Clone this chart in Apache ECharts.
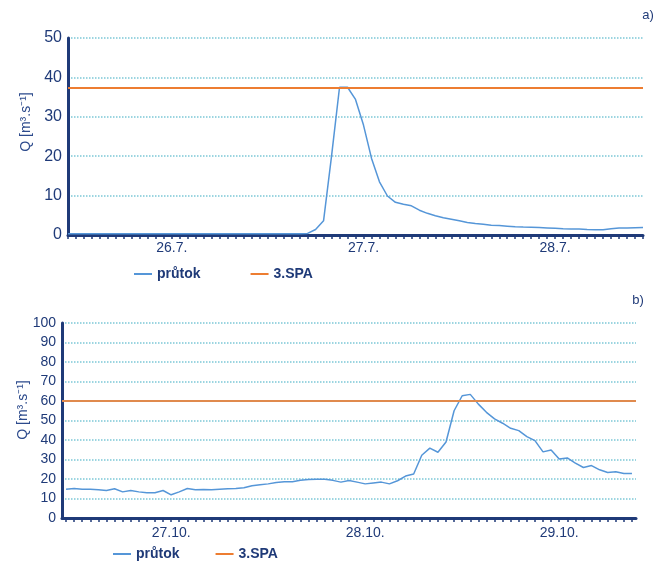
<!DOCTYPE html>
<html><head><meta charset="utf-8">
<script src="https://cdn.jsdelivr.net/npm/echarts@6/dist/echarts.min.js"></script>
<style>html,body{margin:0;padding:0;background:#fff}#c{width:659px;height:563px}</style>
</head><body><div id="c"></div>
<script>
// ---- chart a) ----
const flowA = [
  0.3,0.3,0.3,0.3,0.3,0.3,0.3,0.3,0.3,0.3,
  0.3,0.3,0.3,0.3,0.3,0.3,0.3,0.3,0.3,0.3,
  0.3,0.3,0.3,0.3,0.3,0.3,0.3,0.3,0.3,0.3,
  0.4,1.4,3.6,20,37.5,37.5,34.4,27.9,19.5,13.5,
  9.9,8.3,7.8,7.4,6.3,5.5,4.9,4.4,4.0,3.6,
  3.2,2.9,2.7,2.5,2.4,2.25,2.1,2.0,1.95,1.9,
  1.8,1.7,1.6,1.55,1.5,1.4,1.35,1.35,1.6,1.8,
  1.8,1.85,1.9
];
const spaA = 37.5;
const tickLabelsA = ['26.7.', '27.7.', '28.7.'];
const tickIdxA = [13, 37, 61];

// ---- chart b) ----
const flowB = [
  14.8,15.1,14.8,14.8,14.5,14.1,15.0,13.4,14.1,13.4,
  12.9,12.9,14.1,11.9,13.4,15.1,14.5,14.6,14.5,14.8,
  15.0,15.1,15.5,16.5,17.0,17.5,18.2,18.6,18.6,19.4,
  19.7,19.9,19.9,19.3,18.4,19.2,18.4,17.5,18.0,18.4,
  17.5,19.1,21.5,22.6,32.2,35.8,33.7,39.0,55.0,62.7,
  63.4,58.4,54.2,50.8,48.6,46.0,44.8,41.7,39.7,33.9,
  34.9,30.2,30.8,28.1,25.9,26.9,24.7,23.3,23.7,22.8,
  22.8
];
const spaB = 60;
const tickLabelsB = ['27.10.', '28.10.', '29.10.'];
const tickIdxB = [13, 37, 61];

const seriesNames = ['průtok', '3.SPA'];

const catsA = flowA.map((_, i) => String(i));
const catsB = flowB.map((_, i) => String(i));

const NAVY = '#1f3a78';
const NAVY2 = '#2c4a8c';
const BLUE = '#5596d8';
const ORANGE_A = '#ed7d31';
const ORANGE_B = '#e08a4e';
const GRID = '#7cc8d6';
const FONT = '"Liberation Sans", Arial, sans-serif';

function xAxisCfg(gridIndex, cats, idx, labels, gap, margin) {
  return {
    gridIndex, type: 'category', data: cats, boundaryGap: gap,
    axisLine: { lineStyle: { color: NAVY, width: 3 } },
    axisTick: { show: true, interval: 0, alignWithLabel: true, length: 4, lineStyle: { color: NAVY, width: 1.5 } },
    axisLabel: {
      interval: (i) => idx.includes(i),
      formatter: (v) => { const k = idx.indexOf(Number(v)); return k >= 0 ? labels[k] : ''; },
      color: NAVY, fontSize: 14, fontFamily: FONT, margin: margin
    },
    splitLine: { show: false }
  };
}
function yAxisCfg(gridIndex, max, fs) {
  return {
    gridIndex, type: 'value', min: 0, max: max, interval: 10,
    axisLine: { show: true, lineStyle: { color: NAVY, width: 3 } },
    axisTick: { show: false },
    axisLabel: { color: NAVY, fontSize: fs, fontFamily: FONT, margin: 6 },
    splitLine: { show: true, lineStyle: { color: GRID, type: 'dotted', width: 1.5 } }
  };
}
function spaSeries(axisIdx, val, color) {
  return {
    name: seriesNames[1], type: 'line', xAxisIndex: axisIdx, yAxisIndex: axisIdx,
    data: [], symbol: 'none', z: 2,
    itemStyle: { color: color }, lineStyle: { color: color, width: 2 },
    markLine: {
      silent: true, symbol: ['none', 'none'], label: { show: false },
      lineStyle: { color: color, width: 2, type: 'solid' },
      data: [{ yAxis: val }]
    }
  };
}
function flowSeries(axisIdx, data) {
  return {
    name: seriesNames[0], type: 'line', xAxisIndex: axisIdx, yAxisIndex: axisIdx,
    data: data, symbol: 'none', z: 3,
    itemStyle: { color: BLUE }, lineStyle: { color: BLUE, width: 1.5 }
  };
}
function legendCfg(left, top, gap) {
  return {
    data: seriesNames, left: left, top: top, icon: 'rect', itemWidth: 18, itemHeight: 2, itemGap: gap,
    textStyle: { fontWeight: 'bold', fontSize: 14, color: NAVY, fontFamily: FONT }
  };
}
function axisName(x, y) {
  return {
    type: 'text', x: x, y: y, rotation: Math.PI / 2, silent: true,
    style: { text: 'Q [m³.s⁻¹]', fill: NAVY2, font: '14px ' + FONT, align: 'center', verticalAlign: 'middle', textAlign: 'center', textVerticalAlign: 'middle' }
  };
}
function cornerLabel(text, x, y) {
  return {
    type: 'text', x: x, y: y, silent: true,
    style: { text: text, fill: NAVY, font: '13px ' + FONT, align: 'center', verticalAlign: 'middle', textAlign: 'center', textVerticalAlign: 'middle' }
  };
}

const chart = echarts.init(document.getElementById('c'), null, { renderer: 'canvas' });
chart.setOption({
  animation: false,
  backgroundColor: '#fff',
  grid: [
    { left: 68, top: 38, width: 575, height: 197 },
    { left: 62, top: 323, width: 574, height: 195 }
  ],
  xAxis: [
    xAxisCfg(0, catsA, tickIdxA, tickLabelsA, false, 6),
    xAxisCfg(1, catsB, tickIdxB, tickLabelsB, true, 8)
  ],
  yAxis: [
    yAxisCfg(0, 50, 16),
    yAxisCfg(1, 100, 14)
  ],
  legend: [
    legendCfg(129, 262, 50),
    legendCfg(108, 542, 36)
  ],
  series: [
    spaSeries(0, spaA, ORANGE_A),
    flowSeries(0, flowA),
    spaSeries(1, spaB, ORANGE_B),
    flowSeries(1, flowB)
  ],
  graphic: [
    axisName(26, 122),
    axisName(23, 410),
    cornerLabel('a)', 648, 15),
    cornerLabel('b)', 638, 300)
  ]
});
</script>
</body></html>
